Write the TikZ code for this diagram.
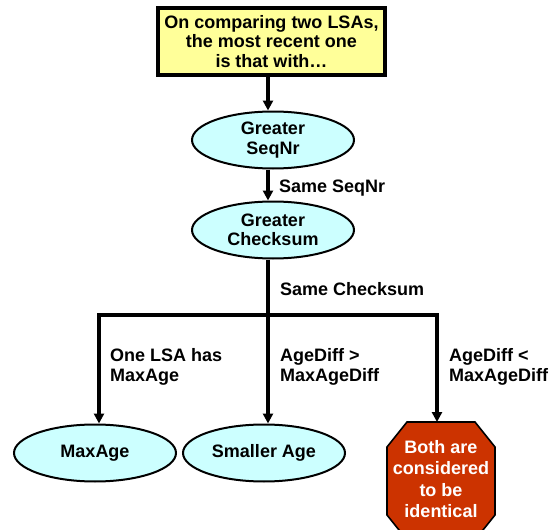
\documentclass[tikz,border=0pt]{standalone}
\usepackage{fontspec}
\setmainfont{Liberation Sans}
\usetikzlibrary{arrows.meta,shapes.geometric}
\definecolor{boxyellow}{HTML}{FFFF99}
\definecolor{ellcyan}{HTML}{CCFFFF}
\definecolor{stopred}{HTML}{CC3300}
\tikzset{
  txt/.style={font=\fontsize{18}{19.5}\selectfont\bfseries, inner sep=0pt, align=center},
  lbl/.style={txt, align=left, anchor=west},
  ell/.style={txt, ellipse, draw=black, line width=2pt, fill=ellcyan, minimum width=162pt, minimum height=57pt},
  arr/.style={line width=3.2pt, -{Triangle[width=10pt,length=10pt]}},
  ln/.style={line width=3.2pt},
}
\begin{document}
\begin{tikzpicture}[x=1pt,y=-1pt]
\useasboundingbox (0,0) rectangle (550,530);
% nodes
\node[txt, draw=black, line width=3.2pt, fill=boxyellow, minimum width=227pt, minimum height=67pt] (top) at (271.5,41.5)
  {On comparing two LSAs,\\the most recent one\\is that with\ldots};
\node[ell] (seq) at (273,140) {Greater\\SeqNr};
\node[ell] (chk) at (273,230) {Greater\\Checksum};
\node[ell] (maxage) at (95,453) {MaxAge};
\node[ell] (smaller) at (264,453) {Smaller Age};
% octagon
\draw[draw=black, line width=1.6pt, fill=stopred]
  (407,422) coordinate (octtop1) -- (475,422) -- (495,447) -- (495,515) -- (475,540)
  -- (407,540) -- (387,515) -- (387,447) -- cycle;
\coordinate (octtop) at (441,422);
\node[txt, text=white, font=\fontsize{18}{21.3}\selectfont\bfseries] (oct) at (441,479) {Both are\\considered\\to be\\identical};
% labels
\node[lbl] (l1) at (279,188) {Same SeqNr};
\node[lbl] (l2) at (280,289) {Same Checksum};
\node[lbl] (l3) at (110,367) {One LSA has\\MaxAge};
\node[lbl] (l4) at (280,367) {AgeDiff >\\MaxAgeDiff};
\node[lbl] (l5) at (449,367) {AgeDiff <\\MaxAgeDiff};
% connectors
\coordinate (spine) at (268,0);
\coordinate (bl) at (99,315);
\coordinate (bm) at (268,315);
\coordinate (br) at (437,315);
\draw[arr] (top.south -| spine) -- (seq.north -| spine);
\draw[arr] (seq.south -| spine) -- (chk.north -| spine);
\draw[ln] (chk.south -| spine) -- (bm);
\draw[ln] ([xshift=-1.6pt]bl) -- ([xshift=1.6pt]br);
\draw[arr] ([yshift=-1.6pt]bl) -- (bl |- maxage.north);
\draw[arr] (bm) -- (bm |- smaller.north);
\draw[arr] ([yshift=-1.6pt]br) -- (br |- octtop);
\end{tikzpicture}
\end{document}
